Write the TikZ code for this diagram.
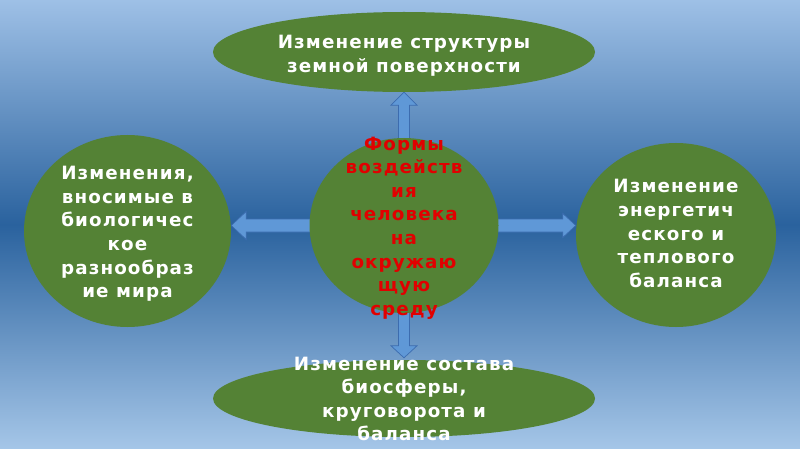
\documentclass[tikz,border=0pt]{standalone}
\usepackage{fontspec}
\setmainfont{DejaVu Sans}
\newfontfamily\lblfont[LetterSpace=6]{DejaVu Sans}
\usetikzlibrary{shapes.geometric,calc}
\definecolor{bgtop}{RGB}{158,192,230}
\definecolor{bgmid}{RGB}{42,98,158}
\definecolor{bgbot}{RGB}{165,198,232}
\definecolor{leaf}{RGB}{84,130,53}
\definecolor{arrfill}{RGB}{95,152,215}
\definecolor{arrline}{RGB}{60,108,175}
\definecolor{redtxt}{RGB}{225,0,0}
\pgfdeclarelayer{bg}\pgfsetlayers{bg,main}
\tikzset{
 blob/.style={ellipse, fill=leaf, draw=none, inner sep=0pt},
 lbl/.style={align=center, inner sep=0pt, text=white, font=\lblfont\bfseries\fontsize{18.3}{23.6}\selectfont},
 redlbl/.style={lbl, text=redtxt},
 blockarrow/.style={fill=arrfill, draw=arrline, line width=0.7pt, line join=miter},
}
\begin{document}
\begin{tikzpicture}[x=1pt,y=-1pt]
\useasboundingbox (0,0) rectangle (800,449);
\begin{pgfonlayer}{bg}
\shade[top color=bgtop, bottom color=bgbot, middle color=bgmid] (0,0) rectangle (800,449);
\end{pgfonlayer}
% shapes
\node[blob, minimum width=382pt, minimum height=80pt] (t) at (404,52) {};
\node[blob, minimum width=382pt, minimum height=77pt] (b) at (404,398.5) {};
\node[blob, minimum width=207pt, minimum height=192pt] (l) at (127.5,231) {};
\node[blob, minimum width=200pt, minimum height=184pt] (r) at (676,235) {};
\node[blob, minimum width=189pt, minimum height=175pt] (c) at (404,225.5) {};
% connectors
\path (l.east |- c.west) coordinate (ltip);
\path (r.west |- c.east) coordinate (rtip);
\path (b.north) ++(0,-2) coordinate (btip);
\begin{pgfonlayer}{bg}
\draw[blockarrow] (t.south) -- ($(t.south)+(13,13)$) -- ($(t.south)+(5.5,13)$) -- ($(c.north)+(5.5,8)$) -- ($(c.north)+(-5.5,8)$) -- ($(t.south)+(-5.5,13)$) -- ($(t.south)+(-13,13)$) -- cycle;
\draw[blockarrow] (btip) -- ($(btip)+(13,-12)$) -- ($(btip)+(5.5,-12)$) -- ($(c.south)+(5.5,-8)$) -- ($(c.south)+(-5.5,-8)$) -- ($(btip)+(-5.5,-12)$) -- ($(btip)+(-13,-12)$) -- cycle;
\draw[blockarrow] (ltip) -- ($(ltip)+(15,-14)$) -- ($(ltip)+(15,-6.5)$) -- ($(c.west)+(8,-6.5)$) -- ($(c.west)+(8,6.5)$) -- ($(ltip)+(15,6.5)$) -- ($(ltip)+(15,14)$) -- cycle;
\draw[blockarrow] (rtip) -- ($(rtip)+(-13,-12)$) -- ($(rtip)+(-13,-6.5)$) -- ($(c.east)+(-8,-6.5)$) -- ($(c.east)+(-8,6.5)$) -- ($(rtip)+(-13,6.5)$) -- ($(rtip)+(-13,12)$) -- cycle;
\end{pgfonlayer}
% texts
\node[lbl] (tt) at (404,55.5) {Изменение структуры\\земной поверхности};
\node[lbl] (bt) at (404,399) {Изменение состава\\биосферы,\\круговорота и\\баланса};
\node[lbl] (lt) at (127.5,234) {Изменения,\\вносимые в\\биологичес\\кое\\разнообраз\\ие мира};
\node[lbl] (rt) at (676,233.5) {Изменение\\энергетич\\еского и\\теплового\\баланса};
\node[redlbl] (ct) at (404,228) {Формы\\воздейств\\ия\\человека\\на\\окружаю\\щую\\среду};
\end{tikzpicture}
\end{document}
